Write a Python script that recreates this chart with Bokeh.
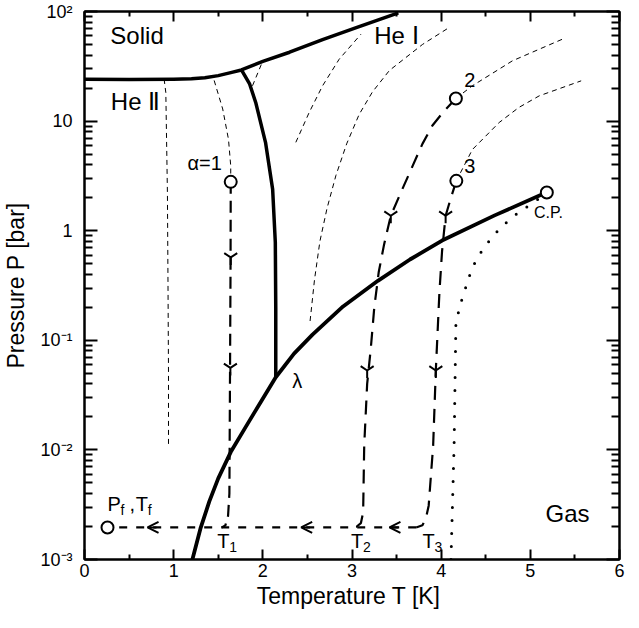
from bokeh.plotting import figure
from bokeh.models import (FixedTicker, LinearAxis, LogAxis, Arrow, OpenHead,
                          ColumnDataSource)
from bokeh.core.properties import value
from bokeh.embed import file_html
from bokeh.resources import INLINE

FONT = "Liberation Sans"

# ---------------- axes ----------------
x_major = [0, 1, 2, 3, 4, 5, 6]
x_minor = [0.5, 1.5, 2.5, 3.5, 4.5, 5.5]
y_major = [1e-3, 1e-2, 1e-1, 1.0, 10.0, 100.0]
y_labels = ["10\u207b\u00b3", "10\u207b\u00b2", "10\u207b\u00b9", "1", "10", "10\u00b2"]
y_minor = [m * d for d in [1e-3, 1e-2, 1e-1, 1.0, 10.0] for m in range(2, 10)]

# ---------------- phase boundaries ----------------
melt_T = [0.0, 0.5, 1.0, 1.2, 1.35, 1.5, 1.64, 1.76, 2.0, 2.3, 2.67, 3.04, 3.52]
melt_P = [24.1, 24.0, 24.1, 24.3, 24.9, 26.0, 27.7, 29.3, 35.0, 42.5, 55.5, 71.0, 97.0]

lam_T = [1.76, 1.85, 1.92, 2.03, 2.11, 2.14, 2.145, 2.145]
lam_P = [29.3, 22.0, 14.8, 6.4, 2.39, 0.78, 0.2, 0.046]

vap_T = [1.21, 1.30, 1.40, 1.50, 1.64, 1.80, 1.96, 2.145, 2.35, 2.557, 2.9, 3.29, 3.65, 4.01,
         4.6, 5.185]
vap_P = [1.0e-3, 1.91e-3, 3.39e-3, 5.5e-3, 9.55e-3, 0.0158, 0.026, 0.046, 0.0755, 0.1127,
         0.2037, 0.349, 0.546, 0.813, 1.38, 2.24]

dot_T = [4.11, 4.145, 4.165, 4.20, 4.239, 4.284, 4.333, 4.396, 4.475, 4.568, 4.669, 4.781, 4.893, 5.024, 5.13]
dot_P = [1e-3, 0.011, 0.14, 0.19, 0.246, 0.318, 0.422, 0.55, 0.689, 0.867, 1.07, 1.29, 1.52, 1.78, 2.05]

# ---------------- thin dashed curves ----------------
thin0_T = [0.893, 0.912, 0.93, 0.937, 0.942, 0.942]
thin0_P = [24.2, 18.2, 2.2, 0.275, 0.05, 0.0105]
thin1_T = [1.454, 1.55, 1.615, 1.64, 1.64]
thin1_P = [23.5, 12.9, 6.8, 3.9, 2.79]
thin2_T = [1.884, 2.0]
thin2_P = [21.0, 35.5]
thin3_T = [2.37, 2.52, 2.67, 2.856, 3.10]
thin3_P = [6.4, 12.0, 21.0, 36.7, 62.0]
thin4_T = [2.53, 2.58, 2.64, 2.72, 2.82, 2.94, 3.08, 3.23, 3.42, 3.79, 4.09]
thin4_P = [0.15, 0.36, 0.8, 1.6, 3.2, 6.2, 11.5, 18.5, 29.0, 50.0, 71.5]
thin5_T = [4.165, 4.35, 4.65, 4.8, 5.1, 5.36]
thin5_P = [16.1, 21.0, 29.8, 35.5, 45.3, 55.9]
thin6_T = [4.17, 4.35, 4.65, 4.87, 5.1, 5.57]
thin6_P = [2.85, 5.5, 9.7, 13.3, 17.0, 23.3]

# ---------------- thick dashed paths ----------------
path1_T = [1.64, 1.638, 1.632, 1.625, 1.61, 1.58, 1.54]
path1_P = [2.79, 0.5, 0.05, 0.004, 0.0025, 0.00205, 0.00196]
path2_T = [4.165, 4.03, 3.9, 3.79, 3.68, 3.56, 3.435, 3.36, 3.30, 3.25, 3.21, 3.17, 3.137, 3.125,
           3.10, 3.05, 3.0]
path2_P = [16.1, 12.3, 9.06, 6.2, 3.9, 2.35, 1.37, 0.75, 0.42, 0.2, 0.083, 0.04, 0.011, 0.0027,
           0.00215, 0.00199, 0.00196]
path3_T = [4.17, 4.11, 4.05, 4.01, 3.98, 3.94, 3.91, 3.86, 3.83, 3.79, 3.72]
path3_P = [2.85, 2.0, 1.37, 0.65, 0.27, 0.053, 0.0109, 0.0031, 0.0024, 0.00205, 0.00196]
hline_T = [3.72, 0.258]
hline_P = [0.00196, 0.00196]

# arrows
varrow_T = [1.64, 1.636, 3.435, 3.17, 4.05, 3.94]
varrow_P = [0.57, 0.056, 1.37, 0.053, 1.37, 0.053]
harrow_T = [0.707, 2.43, 3.42]
harrow_P = [0.00196, 0.00196, 0.00196]

# open circles
circ_T = [1.64, 4.165, 4.17, 5.185, 0.258]
circ_P = [2.79, 16.1, 2.85, 2.23, 0.00196]

# ---------------- labels ----------------
reg_T = [0.29, 0.295, 3.25, 5.17]
reg_P = [60.8, 15.0, 60.0, 2.65e-3]
reg_txt = ["Solid", "He \u2161", "He \u2160", "Gas"]

cur_T = [1.155, 4.26, 4.26, 2.33]
cur_P = [4.15, 23.8, 3.86, 0.0427]
cur_txt = ["\u03b1=1", "2", "3", "\u03bb"]

cp_T = [5.04]
cp_P = [1.47]
cp_txt = ["C.P."]

main_T = [0.258, 0.505, 0.575, 1.49, 2.99, 3.79]
main_P = [3.18e-3, 3.18e-3, 3.18e-3, 1.46e-3, 1.46e-3, 1.46e-3]
main_txt = ["P", ",", "T", "T", "T", "T"]
sub_T = [0.258, 0.575, 1.49, 2.99, 3.79]
sub_P = [3.18e-3, 3.18e-3, 1.46e-3, 1.46e-3, 1.46e-3]
sub_txt = ["f", "f", "1", "2", "3"]
sub_dx = [13, 12, 12, 12, 12]

# ---------------- figure ----------------
p = figure(width=626, height=612, x_range=(0, 6), y_range=(1e-3, 1e2),
           y_axis_type="log", output_backend="svg", toolbar_location=None,
           min_border_left=84, min_border_right=7, min_border_top=11,
           min_border_bottom=53)
p.grid.visible = False
p.outline_line_color = "black"
p.outline_line_width = 2
p.background_fill_color = "white"
p.border_fill_color = "white"

xt = FixedTicker(ticks=x_major, minor_ticks=x_minor)
yt = FixedTicker(ticks=y_major, minor_ticks=y_minor)

bx = p.xaxis[0]
ly = p.yaxis[0]
bx.ticker = xt
ly.ticker = yt
ly.major_label_overrides = {v: s for v, s in zip(y_major, y_labels)}
bx.axis_label = "Temperature  T [K]"
ly.axis_label = "Pressure P [bar]"

tx = LinearAxis(ticker=xt)
ry = LogAxis(ticker=yt)
p.add_layout(tx, "above")
p.add_layout(ry, "right")

for ax in [bx, ly, tx, ry]:
    ax.axis_line_width = 2
    ax.axis_line_color = "black"
    ax.major_tick_line_width = 2
    ax.minor_tick_line_width = 2
    ax.major_tick_out = 0
    ax.minor_tick_out = 0
    ax.major_label_text_font = FONT
    ax.major_label_text_color = "black"
    ax.axis_label_text_font = FONT
    ax.axis_label_text_font_style = "normal"
    ax.axis_label_text_color = "black"
for ax in [bx, tx]:
    ax.major_tick_in = 10
    ax.minor_tick_in = 5
for ax in [ly, ry]:
    ax.major_tick_in = 13
    ax.minor_tick_in = 8
for ax in [bx, ly]:
    ax.major_label_text_font_size = "18px"
    ax.axis_label_text_font_size = "23px"
for ax in [tx, ry]:
    ax.major_label_text_font_size = "2px"
    ax.major_label_text_color = None
    ax.major_label_standoff = 0
bx.major_label_standoff = 4
bx.axis_label_standoff = 3
ly.major_label_standoff = 12
ly.axis_label_standoff = 8

# phase lines
p.line(melt_T, melt_P, line_width=3.5, line_color="black", line_join="round")
p.line(lam_T, lam_P, line_width=3.5, line_color="black", line_join="round")
p.line(vap_T, vap_P, line_width=3.8, line_color="black", line_join="round")
p.line(dot_T, dot_P, line_width=3, line_color="black", line_dash="0 13", line_cap="round")

# thin dashed
for tt, pp in [(thin0_T, thin0_P), (thin1_T, thin1_P), (thin2_T, thin2_P), (thin3_T, thin3_P),
               (thin4_T, thin4_P), (thin5_T, thin5_P), (thin6_T, thin6_P)]:
    p.line(tt, pp, line_width=1, line_color="black", line_dash="5 4")

# thick dashed
p.line(path1_T, path1_P, line_width=2.2, line_color="black", line_dash="12 7")
p.line(path2_T, path2_P, line_width=2.2, line_color="black", line_dash="14 9")
p.line(path3_T, path3_P, line_width=2.2, line_color="black", line_dash="14 9")
p.line(hline_T, hline_P, line_width=2.2, line_color="black", line_dash="8 9")

# downward "Y" arrows on the paths, leftward arrows on the horizontal leg
p.scatter(varrow_T, varrow_P, marker="y", size=15, line_width=2, line_color="black")
for x, y in zip(harrow_T, harrow_P):
    p.add_layout(Arrow(end=OpenHead(size=11, line_width=2, line_color="black"),
                       x_start=x + 0.1, y_start=y, x_end=x, y_end=y,
                       line_width=2, line_color="black"))

p.scatter(circ_T, circ_P, marker="circle", size=12, line_width=2,
          line_color="black", fill_color="white")


def txt(xs, ys, texts, size, align="left", baseline="middle", xo=0, yo=0):
    src = ColumnDataSource(dict(x=xs, y=ys, t=texts))
    p.text("x", "y", text="t", source=src, text_font=value(FONT),
           text_font_size=value(size), text_align=align, text_baseline=baseline,
           x_offset=xo, y_offset=yo, text_color="black")


txt(reg_T, reg_P, reg_txt, "24px")
txt(cur_T, cur_P, cur_txt, "20px")
txt(cp_T, cp_P, cp_txt, "16px")
txt(main_T, main_P, main_txt, "20px")
src = ColumnDataSource(dict(x=sub_T, y=sub_P, t=sub_txt, dx=sub_dx))
p.text("x", "y", text="t", source=src, text_font=value(FONT),
       text_font_size=value("14px"), text_align="left", text_baseline="middle",
       x_offset="dx", y_offset=6, text_color="black")

open("out.html", "w").write(file_html(p, INLINE))
